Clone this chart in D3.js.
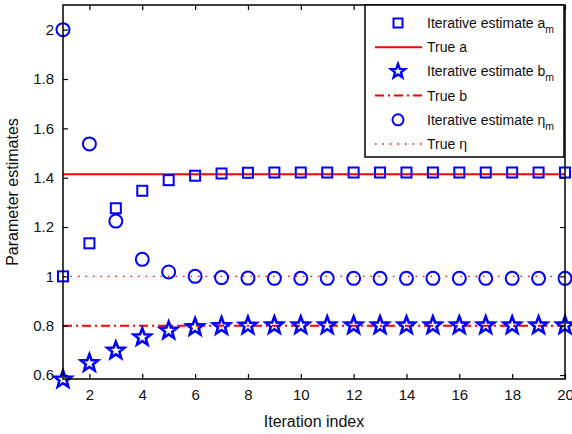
<!DOCTYPE html>
<html>
<head>
<meta charset="utf-8">
<script src="https://cdn.jsdelivr.net/npm/d3@7"></script>
<style>
body { margin: 0; background: #fff; }
text { font-family: "Liberation Sans", Arial, sans-serif; }
</style>
</head>
<body>
<svg id="chart" width="572" height="434"></svg>
<script>
// iteration index and estimates
var iters = d3.range(1, 21);
var aEst = [1.0, 1.134, 1.276, 1.347, 1.39, 1.408, 1.417, 1.42, 1.421, 1.421, 1.421, 1.421, 1.421, 1.421, 1.421, 1.421, 1.421, 1.421, 1.421, 1.421];
var bEst = [0.582, 0.648, 0.699, 0.753, 0.78, 0.794, 0.798, 0.8, 0.801, 0.801, 0.801, 0.801, 0.801, 0.801, 0.801, 0.801, 0.801, 0.801, 0.801, 0.801];
var etaEst = [2.0, 1.537, 1.224, 1.069, 1.018, 1.0, 0.995, 0.993, 0.992, 0.992, 0.992, 0.992, 0.992, 0.992, 0.992, 0.992, 0.992, 0.992, 0.992, 0.992];
var trueA = 1.414, trueB = 0.8, trueEta = 1.0;
var xTicks = [2, 4, 6, 8, 10, 12, 14, 16, 18, 20];
var yTicks = [0.6, 0.8, 1, 1.2, 1.4, 1.6, 1.8, 2];

var svg = d3.select("#chart");
var pLeft = 63, pRight = 565, pTop = 5, pBottom = 379;

var x = d3.scaleLinear().domain([1, 20]).range([pLeft, pRight]);
var y = d3.scaleLinear().domain([0.584, 2.1]).range([pBottom, pTop]);

var blue = "#0000ff", red = "#ff0000";

// reference lines
var hline = function (v, dash) {
    svg.append("line")
        .attr("x1", x(1)).attr("x2", x(20))
        .attr("y1", y(v)).attr("y2", y(v))
        .attr("stroke", red)
        .attr("stroke-width", dash === "dot" ? 1.3 : 2)
        .attr("stroke-dasharray", dash === "dot" ? "1.5,6" : dash);
}
hline(trueA, null);
hline(trueB, "9,4,2,4");
hline(trueEta, "dot");

var starPath = function (r) {
    var pts = [];
    for (var i = 0; i < 10; i++) {
        var ang = -Math.PI / 2 + i * Math.PI / 5;
        var rr = i % 2 === 0 ? r : r * 0.42;
        pts.push([rr * Math.cos(ang), rr * Math.sin(ang)]);
    }
    return "M" + pts.join("L") + "Z";
}

var drawSquares = function (g, data) {
    g.selectAll("rect.sq").data(data).enter().append("rect")
        .attr("class", "sq")
        .attr("x", function (d, i) { return x(iters[i]) - 5; })
        .attr("y", function (d) { return y(d) - 5; })
        .attr("width", 10).attr("height", 10)
        .attr("fill", "none").attr("stroke", blue).attr("stroke-width", 2);
}
var drawStars = function (g, data) {
    g.selectAll("path.st").data(data).enter().append("path")
        .attr("class", "st")
        .attr("d", starPath(9))
        .attr("transform", function (d, i) { return "translate(" + x(iters[i]) + "," + y(d) + ")"; })
        .attr("fill", "none").attr("stroke", blue).attr("stroke-width", 2.6)
        .attr("stroke-linejoin", "miter");
}
var drawCircles = function (g, data) {
    g.selectAll("circle.ci").data(data).enter().append("circle")
        .attr("class", "ci")
        .attr("cx", function (d, i) { return x(iters[i]); })
        .attr("cy", function (d) { return y(d); })
        .attr("r", 6.5)
        .attr("fill", "none").attr("stroke", blue).attr("stroke-width", 2);
}

drawSquares(svg.append("g"), aEst);
drawStars(svg.append("g"), bEst);
drawCircles(svg.append("g"), etaEst);

// axes frame
svg.append("rect")
    .attr("x", pLeft).attr("y", pTop)
    .attr("width", pRight - pLeft).attr("height", pBottom - pTop)
    .attr("fill", "none").attr("stroke", "#000").attr("stroke-width", 1.5);

var xAxis = svg.append("g").attr("transform", "translate(0," + pBottom + ")")
    .call(d3.axisBottom(x).tickValues(xTicks).tickSizeInner(-5).tickSizeOuter(0).tickPadding(10));
var xTop = svg.append("g").attr("transform", "translate(0," + pTop + ")")
    .call(d3.axisTop(x).tickValues(xTicks).tickSizeInner(-5).tickSizeOuter(0).tickFormat(""));
var yAxis = svg.append("g").attr("transform", "translate(" + pLeft + ",0)")
    .call(d3.axisLeft(y).tickValues(yTicks).tickSizeInner(-5).tickSizeOuter(0).tickPadding(9).tickFormat(d3.format("")));
var yRight = svg.append("g").attr("transform", "translate(" + pRight + ",0)")
    .call(d3.axisRight(y).tickValues(yTicks).tickSizeInner(-5).tickSizeOuter(0).tickFormat(""));

[xAxis, xTop, yAxis, yRight].forEach(function (g) {
    g.select(".domain").remove();
    g.selectAll("line").attr("stroke", "#000").attr("stroke-width", 1.2);
    g.selectAll("text").attr("font-size", 15).attr("fill", "#111")
        .attr("font-family", "Liberation Sans, Arial, sans-serif");
});

svg.append("text")
    .attr("x", (pLeft + pRight) / 2).attr("y", 427)
    .attr("text-anchor", "middle").attr("font-size", 16).attr("fill", "#111")
    .text("Iteration index");
svg.append("text")
    .attr("transform", "translate(18," + (pTop + pBottom) / 2 + ") rotate(-90)")
    .attr("text-anchor", "middle").attr("font-size", 16).attr("fill", "#111")
    .text("Parameter estimates");

// legend
var lg = svg.append("g");
lg.append("rect")
    .attr("x", 365).attr("y", pTop).attr("width", 199).attr("height", 152)
    .attr("fill", "#fff").attr("stroke", "#000").attr("stroke-width", 1.5);

var legendItems = [
    { kind: "square", label: "Iterative estimate a", sub: "m" },
    { kind: "solid", label: "True a" },
    { kind: "star", label: "Iterative estimate b", sub: "m" },
    { kind: "dashdot", label: "True b" },
    { kind: "circle", label: "Iterative estimate \u03b7", sub: "m" },
    { kind: "dot", label: "True \u03b7" }
];
legendItems.forEach(function (it, i) {
    var cy = 23 + i * 24.2;
    var mx = 398;
    if (it.kind === "square") {
        lg.append("rect").attr("x", mx - 4.5).attr("y", cy - 4.5).attr("width", 9).attr("height", 9)
            .attr("fill", "none").attr("stroke", blue).attr("stroke-width", 2);
    } else if (it.kind === "star") {
        lg.append("path").attr("d", starPath(7.5)).attr("transform", "translate(" + mx + "," + cy + ")")
            .attr("fill", "none").attr("stroke", blue).attr("stroke-width", 2.4);
    } else if (it.kind === "circle") {
        lg.append("circle").attr("cx", mx).attr("cy", cy).attr("r", 5.5)
            .attr("fill", "none").attr("stroke", blue).attr("stroke-width", 2);
    } else {
        lg.append("line").attr("x1", 375).attr("x2", 422).attr("y1", cy).attr("y2", cy)
            .attr("stroke", red)
            .attr("stroke-width", it.kind === "dot" ? 1.3 : 2)
            .attr("stroke-dasharray", it.kind === "solid" ? null : (it.kind === "dot" ? "1.5,6" : "9,4,2,4"));
    }
    var t = lg.append("text").attr("x", 427).attr("y", cy + 5)
        .attr("font-size", 14).attr("fill", "#111");
    t.append("tspan").text(it.label);
    if (it.sub) t.append("tspan").attr("dy", 5).attr("font-size", 10.5).text(it.sub);
});
</script>
</body>
</html>
